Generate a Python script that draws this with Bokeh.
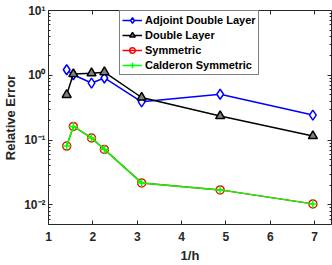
from bokeh.plotting import figure
from bokeh.models import LinearAxis, LogAxis, FixedTicker, Legend, LegendItem, Range1d, CustomJSTickFormatter
from bokeh.embed import file_html
from bokeh.resources import INLINE

inv_h = [1.41, 1.56, 1.97, 2.26, 3.10, 4.87, 6.96]
adjoint_double_layer = [1.22, 1.02, 0.76, 0.91, 0.39, 0.51, 0.244]
double_layer = [0.50, 1.05, 1.08, 1.12, 0.455, 0.236, 0.116]
symmetric = [0.081, 0.163, 0.108, 0.072, 0.0219, 0.0171, 0.0104]
calderon_symmetric = [0.081, 0.163, 0.108, 0.072, 0.0219, 0.0171, 0.0104]

x_ticks = [1, 2, 3, 4, 5, 6, 7]
y_ticks = [0.01, 0.1, 1, 10]
y_tick_labels = ["10\u207b\u00b2", "10\u207b\u00b9", "10\u2070", "10\u00b9"]
y_minor = [m * 10.0 ** e for e in (-3, -2, -1, 0) for m in range(2, 10)]

FONT = "Liberation Sans"
AX = "#262626"

p = figure(width=332, height=265, y_axis_type="log",
           x_range=Range1d(1, 7.38), y_range=Range1d(0.005, 10),
           output_backend="svg", toolbar_location=None,
           min_border_left=47, min_border_right=1, min_border_top=10, min_border_bottom=40)
p.xgrid.visible = False
p.ygrid.visible = False
p.outline_line_color = None
p.background_fill_color = "white"

r1l = p.line(inv_h, adjoint_double_layer, line_color="#0000FF", line_width=1.5)
r1m = p.scatter(inv_h, adjoint_double_layer, marker="diamond", size=10,
                line_color="#0000FF", line_width=1.5, fill_color="white")
r2l = p.line(inv_h, double_layer, line_color="black", line_width=1.5)
r2m = p.scatter(inv_h, double_layer, marker="triangle", size=9,
                line_color="black", line_width=1.5, fill_color="#808080")
r3l = p.line(inv_h, symmetric, line_color="#FF0000", line_width=1.5)
r3m = p.scatter(inv_h, symmetric, marker="circle", size=8,
                line_color="#FF0000", line_width=1.5, fill_color=None)
r4l = p.line(inv_h, calderon_symmetric, line_color="#00FF00", line_width=1.5)
r4m = p.scatter(inv_h, calderon_symmetric, marker="cross", size=9,
                line_color="#00FF00", line_width=1.5)

def style_axis(ax, labels=True, standoff=3):
    ax.axis_line_color = AX
    ax.major_tick_line_color = AX
    ax.minor_tick_line_color = AX
    ax.major_tick_in = 4
    ax.major_tick_out = 0
    ax.minor_tick_in = 2
    ax.minor_tick_out = 0
    ax.major_label_text_font = FONT
    ax.major_label_text_font_style = "bold"
    ax.major_label_text_font_size = "12px"
    ax.major_label_text_color = AX
    ax.major_label_standoff = standoff
    if not labels:
        ax.formatter = CustomJSTickFormatter(code="return ''")
        ax.major_label_text_font_size = "1px"
        ax.major_label_standoff = 0

xt = FixedTicker(ticks=x_ticks, minor_ticks=[])
yt = FixedTicker(ticks=y_ticks, minor_ticks=y_minor)
ylabels = {t: l for t, l in zip(y_ticks, y_tick_labels)}

p.xaxis.ticker = xt
p.yaxis.ticker = yt
p.yaxis.major_label_overrides = ylabels
style_axis(p.xaxis[0], standoff=7)
style_axis(p.yaxis[0], standoff=3)
p.xaxis.axis_label = "1/h"
p.yaxis.axis_label = "Relative Error"
for ax in (p.xaxis[0], p.yaxis[0]):
    ax.axis_label_text_font = FONT
    ax.axis_label_text_font_style = "bold"
    ax.axis_label_text_font_size = "13px"
    ax.axis_label_text_color = AX
p.xaxis.axis_label_standoff = 4
p.yaxis.axis_label_standoff = 3

top = LinearAxis(ticker=FixedTicker(ticks=x_ticks, minor_ticks=[]))
style_axis(top, labels=False)
p.add_layout(top, "above")
right = LogAxis(ticker=FixedTicker(ticks=y_ticks, minor_ticks=y_minor))
style_axis(right, labels=False)
p.add_layout(right, "right")

legend = Legend(items=[
    LegendItem(label="Adjoint Double Layer", renderers=[r1l, r1m]),
    LegendItem(label="Double Layer", renderers=[r2l, r2m]),
    LegendItem(label="Symmetric", renderers=[r3l, r3m]),
    LegendItem(label="Calderon Symmetric", renderers=[r4l, r4m]),
], location=(71, 149))
legend.border_line_color = "black"
legend.border_line_width = 1
legend.background_fill_color = "white"
legend.background_fill_alpha = 1
legend.label_text_font = FONT
legend.label_text_font_style = "bold"
legend.label_text_font_size = "11px"
legend.label_text_color = "black"
legend.glyph_width = 20
legend.glyph_height = 14
legend.label_height = 14
legend.spacing = 1
legend.padding = 2
legend.margin = 0
legend.label_standoff = 3
p.add_layout(legend)

open("out.html", "w").write(file_html(p, INLINE))
